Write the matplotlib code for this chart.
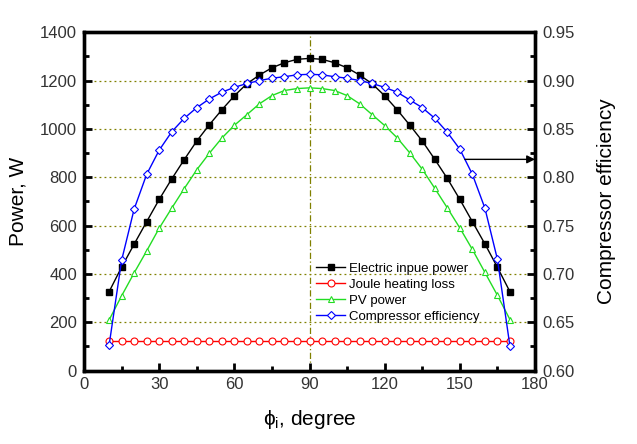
import numpy as np
import matplotlib
matplotlib.use("Agg")
import matplotlib.pyplot as plt
from matplotlib.ticker import MultipleLocator, FormatStrFormatter

plt.rcParams['font.family'] = ['Liberation Sans', 'DejaVu Sans']
plt.rcParams['mathtext.fontset'] = 'custom'
plt.rcParams['mathtext.rm'] = 'Liberation Sans'
plt.rcParams['mathtext.it'] = 'Liberation Sans:italic'

## Data

angle = [10, 15, 20, 25, 30, 35, 40, 45, 50, 55, 60, 65, 70, 75, 80, 85, 90,
         95, 100, 105, 110, 115, 120, 125, 130, 135, 140, 145, 150, 155, 160, 165, 170]

input_power = [326, 428, 523, 616, 708, 793, 873, 950, 1017, 1079, 1137, 1187, 1223, 1253, 1274, 1288, 1292,
               1288, 1274, 1253, 1223, 1187, 1137, 1079, 1016, 950, 874, 795, 708, 616, 524, 427, 326]

joule_loss = [123] * 33

pv_power = [209, 309, 404, 495, 589, 672, 753, 831, 899, 962, 1015, 1059, 1104, 1138, 1159, 1167, 1170,
            1167, 1159, 1138, 1104, 1059, 1014, 963, 901, 833, 754, 673, 590, 501, 406, 311, 211]

efficiency = [0.626, 0.714, 0.767, 0.803, 0.828, 0.847, 0.861, 0.872, 0.881, 0.888, 0.893, 0.897, 0.900,
              0.9025, 0.904, 0.906, 0.9065, 0.906, 0.904, 0.9025, 0.900, 0.897, 0.893, 0.888, 0.880,
              0.872, 0.861, 0.8465, 0.829, 0.803, 0.768, 0.715, 0.625]

fig = plt.figure(figsize=(6.37, 4.44), dpi=100)
ax = fig.add_axes([0.1319, 0.1655, 0.708, 0.7618])
ax2 = ax.twinx()

####### grid lines (only horizontal + one at 90) #######
for yv in [200, 400, 600, 800, 1000, 1200]:
    ax.axhline(yv, color='#808000', linestyle=(0, (1.5, 2.5)), linewidth=0.9, zorder=0)
ax.axvline(90, color='#808000', linestyle=(0, (5, 2, 1, 2)), linewidth=0.9, zorder=0)

l1, = ax.plot(angle, input_power, color='k', marker='s', markersize=5, linewidth=1,
              label='Electric inpue power')
l2, = ax.plot(angle, joule_loss, color='#ff0000', marker='o', markersize=5, markerfacecolor='white',
              markeredgewidth=0.8, linewidth=1, label='Joule heating loss')
l3, = ax.plot(angle, pv_power, color='#22dd22', marker='^', markersize=5, markerfacecolor='white',
              markeredgewidth=0.8, linewidth=1, label='PV power')
l4, = ax2.plot(angle, efficiency, color='#0000ff', marker='D', markersize=4.5, markerfacecolor='white',
               markeredgewidth=0.8, linewidth=1, label='Compressor efficiency')

ax.set_xlim(0, 180)
ax.set_ylim(0, 1400)
ax2.set_ylim(0.60, 0.95)

ax.xaxis.set_major_locator(MultipleLocator(30))
ax.xaxis.set_minor_locator(MultipleLocator(15))
ax.yaxis.set_major_locator(MultipleLocator(200))
ax.yaxis.set_minor_locator(MultipleLocator(100))
ax2.yaxis.set_major_locator(MultipleLocator(0.05))
ax2.yaxis.set_minor_locator(MultipleLocator(0.025))
ax2.yaxis.set_major_formatter(FormatStrFormatter('%.2f'))

for a in (ax, ax2):
    for s in a.spines.values():
        s.set_linewidth(2.4)
ax.tick_params(which='major', direction='in', length=6, width=2, labelsize=12, pad=5,
               top=False, right=False, labelcolor='#333333')
ax.tick_params(which='minor', direction='in', length=3.5, width=2, top=False, right=False)
ax2.tick_params(which='major', direction='in', length=6, width=2, labelsize=12, pad=5,
                labelcolor='#333333')
ax2.tick_params(which='minor', direction='in', length=3.5, width=2)

ax.set_xlabel(r'$\mathrm{\phi}_{\mathrm{i}}$, degree', fontsize=15, labelpad=11)
ax.set_ylabel('Power, W', fontsize=15, labelpad=9)
ax2.set_ylabel('Compressor efficiency', fontsize=15, labelpad=16)

# arrow pointing at the efficiency axis
ax2.annotate('', xy=(180, 0.8185), xytext=(152, 0.8185),
             arrowprops=dict(arrowstyle='-|>', color='k', lw=1, mutation_scale=12,
                             shrinkA=0, shrinkB=0))

ax.legend(handles=[l1, l2, l3, l4], loc='upper left', bbox_to_anchor=(0.515, 0.32),
          frameon=False, fontsize=9.5, handlelength=2.2, handletextpad=0.3,
          labelspacing=0.3, borderpad=0, borderaxespad=0)

fig.savefig('out.png', dpi=100)
